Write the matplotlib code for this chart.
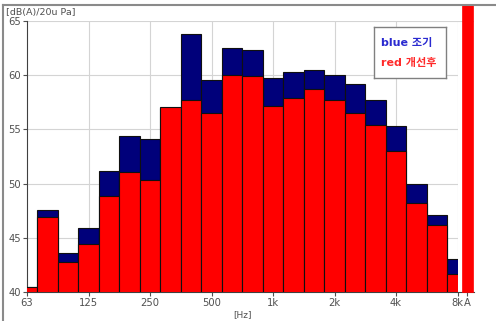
import numpy as np
import matplotlib.pyplot as plt
from matplotlib.lines import Line2D

# 1/3 octave bands and levels in dB(A)
bands = ['63', '80', '100', '125', '160', '200', '250', '315', '400', '500', '630',
         '800', '1k', '1.25k', '1.6k', '2k', '2.5k', '3.15k', '4k', '5k', '6.3k', '8k']
blue_before = [40.5, 47.6, 43.6, 45.9, 51.2, 54.4, 54.1, 57.0, 63.8, 59.6, 62.5,
               62.3, 59.75, 60.3, 60.5, 60.0, 59.2, 57.7, 55.3, 50.0, 47.1, 43.0]
red_after = [40.5, 46.9, 42.8, 44.4, 48.9, 51.1, 50.3, 57.1, 57.7, 56.5, 60.0,
             59.9, 57.2, 57.9, 58.7, 57.75, 56.5, 55.45, 53.0, 48.2, 46.2, 41.7]
total_label = 'A'
total_red = 66.5
yticks = [40, 45, 50, 55, 60, 65]

plt.rcParams['font.family'] = ['DejaVu Sans', 'Noto Sans CJK KR']

W, H = 496, 321
fig = plt.figure(figsize=(W / 100, H / 100), dpi=100)

x0, x8k, xend = 27, 457.5, 474
ybot, ytop = 292, 21
ax = fig.add_axes([x0 / W, 1 - ybot / H, (x8k - x0) / W, (ybot - ytop) / H])
axa = fig.add_axes([x8k / W, 1 - ybot / H, (xend - x8k) / W, (ybot - ytop) / H])

grid_c = '#d4d4d4'
txt_c = '#505050'
x = np.arange(len(bands))

ax.bar(x, blue_before, width=1.0, color='#00007a', edgecolor='#101010', linewidth=0.8, zorder=2)
ax.bar(x, red_after, width=1.0, color='#ff0000', edgecolor='#101010', linewidth=0.8, zorder=3)
ax.set_xlim(0, len(bands) - 1)
ax.set_ylim(40, 65)

ax.set_xticks(x[::3])
ax.set_xticklabels(bands[::3])
ax.set_yticks(yticks)
ax.set_yticklabels([str(v) for v in yticks])
ax.tick_params(axis='both', labelsize=7.2, colors=txt_c, length=3, width=0.8, pad=1.5)
for v in x[::3][1:]:
    ax.axvline(v, color=grid_c, lw=0.8, zorder=0)
for v in yticks[1:]:
    ax.axhline(v, color=grid_c, lw=0.8, zorder=0)
for s in ['top', 'right']:
    ax.spines[s].set_visible(False)
ax.spines['left'].set_color('#404040')
ax.spines['bottom'].set_color('#404040')
ax.set_xlabel('[Hz]', fontsize=6.5, color=txt_c, labelpad=1)

# overall A-weighted bar
axa.bar([0.6], [total_red - 40], bottom=40, width=0.7, color='#ff0000',
        edgecolor='#ff0000', linewidth=0.5, clip_on=False, zorder=3)
axa.set_xlim(0, 1)
axa.set_ylim(40, 65)
axa.axhline(65, color=grid_c, lw=0.8, zorder=0)
axa.set_xticks([0.58])
axa.set_xticklabels([total_label])
axa.set_yticks([])
axa.tick_params(axis='x', labelsize=7.2, colors=txt_c, length=3, width=0.8, pad=1.5)
for s in ['top', 'right', 'left']:
    axa.spines[s].set_visible(False)
axa.spines['bottom'].set_color('#404040')

# legend box
box = fig.add_axes([374 / W, 1 - 78 / H, (446 - 374) / W, (78 - 27) / H])
box.set_xticks([])
box.set_yticks([])
for s in box.spines.values():
    s.set_color('#808080')
    s.set_linewidth(1.0)
box.text(0.1, 0.68, 'blue 조기', color='#2a2ad0', fontsize=8, fontweight='bold',
         va='center', family=['DejaVu Sans', 'Noto Sans CJK KR'])
box.text(0.1, 0.3, 'red 개선후', color='#ff2a2a', fontsize=8, fontweight='bold',
         va='center', family=['DejaVu Sans', 'Noto Sans CJK KR'])

# outer frame and unit label
fig.add_artist(Line2D([3 / W, 3 / W], [0, 1 - 5 / H], color='#8a8a8a', lw=1.5))
fig.add_artist(Line2D([3 / W, 1], [1 - 5 / H, 1 - 5 / H], color='#8a8a8a', lw=1.5))
fig.text(6 / W, 1 - 13 / H, '[dB(A)/20u Pa]', fontsize=6.8, color=txt_c, va='center')

fig.savefig('out.png', dpi=100)
